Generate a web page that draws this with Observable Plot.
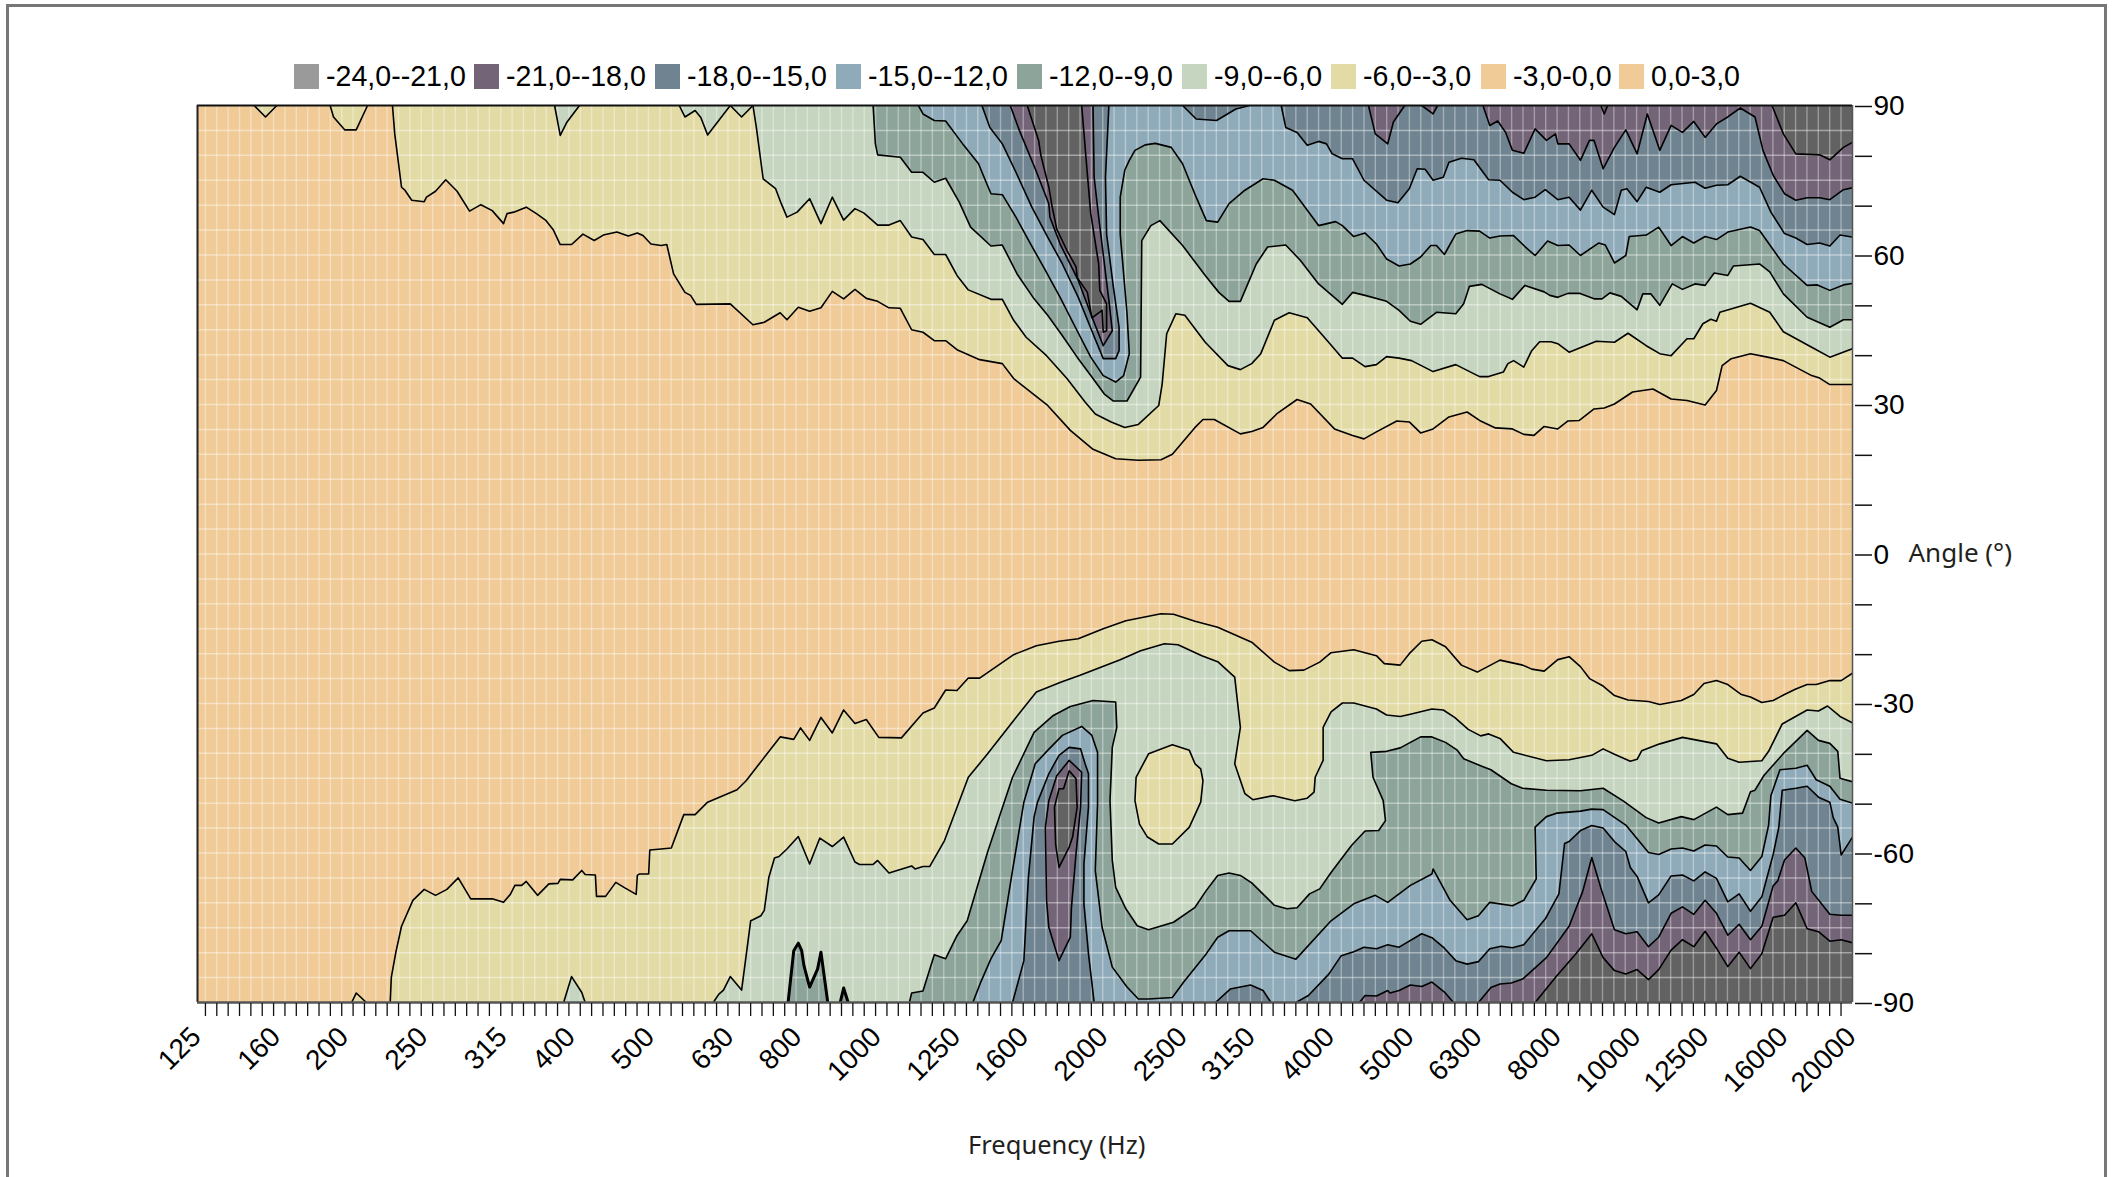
<!DOCTYPE html>
<html><head><meta charset="utf-8">
<script src="https://cdn.jsdelivr.net/npm/d3@7"></script>
<script src="https://cdn.jsdelivr.net/npm/@observablehq/plot@0.6"></script>
<style>
html,body{margin:0;padding:0;background:#fff}
#page{position:relative;width:2114px;height:1177px;overflow:hidden}
#border{position:absolute;left:6px;top:4px;width:2095px;height:1300px;border:3px solid #777;box-sizing:content-box}
#legend{position:absolute;left:294px;top:64px;height:25px;font:28.6px "Liberation Sans",Arial,sans-serif;color:#000;line-height:25px;white-space:nowrap}
#legend span.s{position:absolute;top:0;width:25px;height:25px}
#legend span.t{position:absolute;top:0}
svg{position:absolute;left:0;top:0;background:transparent}
</style></head><body>
<div id="page"><div id="border"></div><div id="legend"></div><div id="chart"></div></div>
<script>
// x is the 1/20-octave band index (0 = 125 Hz, 146 = 20000 Hz); y is the angle in degrees
const freqLabels = ["125","160","200","250","315","400","500","630","800","1000","1250","1600","2000","2500","3150","4000","5000","6300","8000","10000","12500","16000","20000"];
const freqIndex = [0,7,13,20,27,33,40,47,53,60,67,73,80,87,93,100,107,113,120,127,133,140,146];
const legendLabels = ["-24,0--21,0","-21,0--18,0","-18,0--15,0","-15,0--12,0","-12,0--9,0","-9,0--6,0","-6,0--3,0","-3,0-0,0","0,0-3,0"];
const legendColors = ["#9a9a9a","#746478","#6f8490","#8fabb9","#8ca49a","#c6d5bf","#e3dba5","#f0cb98","#f0cb98"];
const bandColors = {m3:"#e3dba5",m6:"#c6d5bf",m9:"#8ca49a",m12:"#8fabb9",m15:"#6f8490",m18:"#746478",m21:"#626262"};

// Upper half contours (angle > 0)
const u3 = [[17.2,90],[17.4,84.3],[18,73.6],[18.3,73],[18.9,71],[20,70.7],[20.2,71.6],[21,72.8],[21.9,75.1],[22.9,72.8],[24,68.8],[25,70.1],[26,68.9],[27,66.3],[27.3,68.3],[27.9,68.6],[29,69.6],[29.9,68.3],[30.7,67],[31.4,65],[32,62.1],[33,62.1],[34,64.2],[35,62.9],[35.8,64],[37,64.6],[38,63.8],[38.8,64.4],[39.3,63.9],[40,62.2],[40.9,61.9],[41.4,62.1],[42,56.2],[43,52.5],[43.5,51.9],[44,50.1],[47,50.2],[49,46],[50,46.5],[51.4,48.4],[52,47],[53,49.5],[54,48.7],[55,49.4],[56,52.7],[57,51.2],[58,53.1],[59,51.3],[60,50.7],[61,49.4],[62,49.3],[63,45],[64,44.5],[65,42.8],[66,42.8],[67,41],[69,39],[71,38.2],[72,35.2],[75,29.8],[77,24.8],[79,21],[81,19.1],[83,18.8],[85,18.9],[86,20],[88,25.4],[88.7,27],[89.7,27],[92,24.1],[93,24.6],[94,25.4],[95.2,28.1],[97,31],[98.2,30.1],[100.3,25.1],[101.9,23.8],[102.9,23.1],[104,24.5],[105.8,26.7],[106.9,26.5],[107.9,24.3],[109,25.1],[110.4,27.5],[112,28.5],[113.1,26.8],[114.5,25.3],[116,25.1],[117,24],[117.9,23.8],[118.8,25.6],[120,25.1],[120.9,26.7],[121.9,26.8],[123.2,29.1],[124.1,29.3],[125,30.1],[126.6,32.5],[128.4,33.1],[130,31.1],[131.4,30.8],[133,29.9],[134,32.8],[134.5,37.8],[135.3,39.2],[137,40.2],[138.5,39.5],[139.9,38.8],[142.4,35.8],[143.1,35.3],[144,34],[146,34]];
const u3DipA = [[5,90],[6,87.7],[7,90]];
const u3DipB = [[11.7,90],[12,87.7],[13,85.1],[14,85.1],[15,90]];
const u6 = [[49,90],[49.3,85.6],[49.9,75.3],[51,73.3],[51.5,70.3],[52,67.6],[52.9,68.6],[54,71.3],[55,66.3],[56,71.6],[57,67],[58,69.3],[58.8,68.4],[60,66],[61,66],[62,66.9],[63,63.6],[64,63.1],[65,60.1],[66,60.1],[67,55.9],[68,53],[70,51.1],[71,51.1],[72,46.9],[73.1,43.5],[74.9,39.8],[76.7,35.2],[78.3,30.5],[79.2,28.1],[80.6,26.5],[81.8,25.4],[83,26],[84.8,29.8],[85.1,34.1],[85.5,44.2],[86.3,48.2],[87.1,47.9],[88.9,42.5],[90.9,37.8],[92,37],[93,38.2],[93.8,40.2],[95,46.9],[96.3,48.4],[97.9,47.4],[99.9,42.2],[101,39.3],[101.9,39.3],[103,37.6],[104,38],[104.9,39.6],[106,39.3],[107.1,38.8],[109,36.6],[111,38],[113.1,35.6],[113.9,35.6],[115.2,36.5],[115.6,38.2],[116.1,38.8],[117,37.5],[117.7,40.8],[118.4,42.6],[119.4,42.6],[120,42.2],[121,40.5],[123.4,42.7],[125,42.5],[126.2,44.3],[127.8,41.8],[129,40.2],[130,39.8],[131.4,43.2],[132,43.2],[132.8,46.2],[133.5,47.1],[134,46.7],[134.3,48.5],[137,50.3],[138.7,48.5],[139.9,44.6],[142.4,41.5],[144,39.5],[146,41.2]];
const u6DipA = [[31.5,90],[32,84],[32.6,86.7],[33.7,90]];
const u6DipB = [[42.5,90],[43,87.7],[43.9,89],[44.4,87.6],[45,84.1],[47,90]];
const u6DipC = [[47,90],[48,87.7],[49,90]];
const u9 = [[59.6,90],[59.8,82.3],[60,80.1],[62,79.6],[63,76.6],[64,76.6],[65,74.6],[66,75.4],[67.2,70.6],[68.2,65.6],[70,61.8],[71,62],[72.3,56.2],[73.8,51.2],[75,47.9],[76.3,43.8],[77.6,39.5],[78.8,35.8],[80,32.1],[80.8,30.7],[82,30.7],[83.2,35.5],[83.3,62.9],[84.1,65.9],[84.9,66.9],[86.9,61.9],[88.9,55.9],[90.1,52.5],[91,50.7],[92,50.7],[93.4,58.2],[94.4,61.6],[96,62],[97.3,58.9],[98.9,54.2],[101,50.1],[101.9,52.5],[103,51.9],[104.9,50.7],[106,48.9],[107,46.7],[107.9,46.1],[109.3,48.5],[111,48.2],[111.7,50.2],[112.2,53.7],[113.3,54.1],[114.9,52.2],[116,51.1],[117.1,53.9],[118.8,52.6],[119.3,51.9],[120,51.5],[120.9,52.3],[121.9,52.3],[123.2,51.2],[123.9,51.2],[124.6,52.4],[125.6,51.7],[127,49],[127.5,52.2],[128.2,52.2],[129,49.9],[130.1,54.2],[131,53.1],[132.1,54.2],[133,53.9],[133.8,56.4],[135,55.9],[135.5,57.8],[137.8,58.2],[138.7,56.6],[139.9,52.2],[142,47.5],[144,45.5],[145.2,47],[146,47]];
const u12 = [[63.6,90],[64,88.3],[65,87],[66,86.9],[67.6,82],[68.9,78.3],[69.5,75],[70,72.3],[71,72.1],[72.2,67.6],[73.5,62.2],[74.8,56.9],[76.1,51.5],[77.6,44.8],[78.8,39.5],[79.9,35.8],[81,34.5],[81.7,35.8],[82.2,40.2],[82,48.2],[81.4,64.2],[81.4,71.6],[81.8,77],[82.2,79],[82.7,81],[83.6,82.1],[84.5,82.4],[85.9,81.6],[86.9,78.3],[88.1,71.6],[89,66.9],[90,66.6],[91,70.3],[92.4,73],[94,75.3],[95,75],[96.6,73],[98.9,65.9],[100.4,66.7],[101,65.9],[102,63.7],[103,64.4],[104,62.2],[104.9,59.2],[106,57.8],[107,58.2],[107.9,59.6],[108.8,61.9],[109.3,61.9],[110,60.1],[111,64.2],[112,64.9],[113.1,64.8],[114,63.4],[114.9,63.8],[116.1,63.9],[117.1,61.7],[118,59.9],[119.1,62.8],[120,61.9],[121,62],[122,59.9],[123.6,62.4],[124.2,62],[125,58.4],[126,59.9],[126.3,63.7],[127.8,64],[128.9,65.6],[130,61.9],[131,63.7],[132,62.4],[133,63.7],[134,63.1],[135,64.6],[137,65.6],[137.8,64.9],[139.9,58.2],[142,53.9],[142.9,54],[144,52.9],[145.2,54],[146,54.3]];
const u15Notch = [[69.2,90],[69.9,85.6],[71,82.3],[72.2,76.6],[73.6,69.6],[75,63.6],[76.3,58.2],[77.7,51.5],[79,44.2],[79.9,39.2],[81,39.2],[81.3,40.8],[81.3,45.5],[80.8,53.5],[80.2,64.2],[80.1,75.6],[80.4,90]];
const u15Top = [[86.9,90],[88.1,87.3],[89.9,87],[91.6,89.3],[92.8,90]];
const u15 = [[95.6,90],[96,85.6],[97,84.6],[97.9,82],[98.9,82.8],[99.6,82.3],[100.1,80.3],[101,79.3],[101.9,79.3],[102.9,75],[104.9,71],[105.9,70.5],[106.9,73.3],[107.6,77.3],[108.3,77.2],[109,75],[109.9,75.6],[110.4,78.6],[111.5,79.4],[112.6,79.1],[113.9,75.1],[114.9,75],[116,72.6],[117,71.1],[118,71.6],[118.9,73.1],[120,71.1],[121,71.6],[122,69],[123,73],[124,69.6],[125,68.1],[125.6,73],[126.1,73.3],[127,70.7],[127.8,73.6],[129,72.6],[130,74.1],[132.1,74.6],[133,73.4],[134,74],[135,74.1],[136.1,75.8],[137.8,73.6],[138.8,68.6],[140,64.3],[141,63.4],[142,62.1],[143.1,62.4],[144,61.8],[144.9,64],[146,63.6]];
const u18Notch = [[71.7,90],[72.5,85],[73.9,77.3],[75.1,70.3],[75.2,67.6],[76.1,62.2],[77.7,54.9],[78.8,48.2],[79.9,41.8],[80.7,44.8],[80.4,50.9],[79.5,67.6],[79.1,75.6],[79,90]];
const u18TopA = [[103.3,90],[103.9,84.3],[105,82.3],[105.5,86.7],[106.5,90]];
const u18TopB = [[108,90],[109,88.3],[109.4,90]];
const u18 = [[113.4,90],[114,86],[114.7,86.9],[115.4,84.6],[116,81],[117,80.4],[118,85.3],[119,83],[119.8,84.3],[120,82.3],[121,82.3],[122,79],[122.8,83],[123.2,83],[124,77.3],[125,81.6],[126,85.1],[127,80.3],[127.9,88.3],[129,81],[130,86],[131,84.6],[132,86.8],[133,83.6],[134,86.3],[135,87.7],[136.1,89.5],[137.4,87.7],[138.1,81],[139,76],[140,72.3],[141,71],[142,71.5],[143.1,71.5],[144,71.1],[145.2,73.1],[146,73.5]];
const u21Notch = [[73.2,90],[74.2,83],[74.4,80],[75.1,73.6],[75.4,69.6],[75.8,65.2],[76.7,60.9],[77.5,57.6],[77.6,55.5],[78.5,52.5],[78.9,47.4],[79.8,48.9],[79.9,44.5],[80.2,44.8],[80.2,50.2],[79.6,52.9],[79.5,58.2],[78.8,68.3],[78.5,76.3],[78,90]];
const u21Dip = [[123.8,90],[124.1,88.3],[124.4,90]];
const u21 = [[138.9,90],[139.9,84.3],[141,80.3],[143.1,80.1],[144,79.1],[145.2,81.6],[146,82.6]];

// Lower half contours (angle < 0)
const l3 = [[17,-90],[17.1,-84.9],[17.5,-79.9],[18,-74.7],[19,-69.5],[20,-67.3],[21,-68.5],[22,-67.3],[23,-65],[24.1,-69.2],[26,-69.2],[27,-69.9],[27.6,-68.3],[28,-66.5],[28.6,-66.5],[29,-65.7],[30,-68.5],[31,-66.2],[31.8,-66.1],[32,-65.3],[33.1,-65.4],[33.9,-63.5],[34.2,-64.3],[35.1,-64.4],[35.2,-68.7],[36,-68.7],[36.9,-65.9],[37.7,-67],[38.7,-68.3],[38.8,-64.5],[39,-64.2],[39.8,-64.2],[39.9,-59.4],[40.9,-59.2],[41.8,-59],[42.9,-52.3],[43.9,-52.3],[45,-49.8],[47.6,-47.3],[48.4,-45.5],[51.4,-36.7],[52.6,-37.2],[53.2,-34.9],[54,-37.4],[55,-32.8],[56,-35.9],[57,-31.3],[58,-34],[59,-33.2],[60.1,-36.8],[62.1,-36.9],[64,-31.9],[65,-30.9],[66,-27.3],[67,-27.4],[68,-24.9],[69,-24.9],[72,-20.2],[74,-18.4],[76,-17.5],[77.7,-17],[79.9,-15],[81.9,-13.4],[85,-12],[86.1,-12.1],[88,-13.5],[90,-14.7],[93,-17.7],[95,-21.7],[96.3,-23.4],[97.6,-23.3],[99,-21.7],[100,-19.8],[102,-19.2],[104,-20.4],[104.7,-22],[106.1,-22.3],[106.9,-20],[108,-17.5],[108.9,-17.2],[110.1,-18.6],[111.5,-22.3],[112.9,-23.7],[114.9,-21.3],[116.9,-22.3],[117.7,-23.1],[118.8,-23.5],[120,-21.2],[121,-20.6],[122,-22.6],[122.8,-25],[124,-26.5],[125,-28.4],[126.2,-29.3],[128,-29.6],[129,-30.2],[130.9,-29.4],[132,-28.2],[132.9,-26],[134,-25.4],[135,-26.2],[136.2,-28.2],[137,-28.7],[138,-29.8],[139,-29.4],[140,-28.2],[141,-27.1],[142,-26.2],[142.8,-26.2],[144,-25.4],[145,-25.4],[146,-23.9]];
const l3Dip = [[13.6,-90],[14,-88.1],[14.9,-90]];
const l6 = [[45.5,-90],[46,-88.3],[46.4,-87.5],[47,-84.8],[48,-87.5],[48.8,-73.6],[49,-73.4],[49.7,-72.6],[50,-71.5],[50.4,-64.9],[50.9,-61],[51.3,-60.7],[52,-59.2],[53,-56.7],[54,-62.2],[54.9,-57],[56,-58.7],[57,-56.8],[58,-61.8],[58.4,-62.3],[59.6,-62.3],[60,-61.5],[61,-64],[63,-62.6],[63.3,-63.2],[64,-62.7],[64.6,-62.7],[65.9,-57.5],[68,-44.8],[69.7,-40.1],[72,-33.4],[74,-27.7],[76.2,-25.7],[77.8,-24.4],[81.4,-21.2],[83.2,-19.4],[85.3,-18],[86.5,-18.2],[88.6,-20.4],[90,-21.6],[91.5,-24.7],[92,-34.8],[91.5,-42.1],[92.4,-48.1],[93.1,-49.3],[94.9,-48.5],[96.8,-49.5],[97.9,-49],[98.5,-47.8],[98.6,-44.8],[99.3,-41.4],[99.3,-34.8],[100,-31.7],[101,-29.9],[102,-29.9],[104,-31.1],[104.9,-32.3],[106.1,-32.6],[106.9,-32.2],[108.9,-31.1],[109.9,-31.3],[110.9,-32.8],[112.1,-35.2],[113.2,-36.5],[113.9,-36.1],[114.9,-37],[116.1,-39.8],[119,-41.5],[121,-41.3],[123,-40.4],[124,-39.1],[125,-40.2],[126.4,-41.6],[127,-41.2],[127.4,-39.5],[129,-38.1],[131,-36.8],[134,-38.1],[135,-41],[136,-41.8],[138,-41.5],[138.6,-39.6],[139.8,-34.1],[142,-31.3],[143,-31.5],[143.8,-30.5],[144.9,-32.6],[146,-33.9]];
const l6Dip = [[32.3,-90],[33,-84.8],[33.9,-88],[34.2,-90]];
const l3Island = [[86,-38.3],[87.5,-39.4],[88,-42.1],[88.5,-43.1],[88.7,-45.5],[88.5,-49.8],[87.5,-54.8],[86,-58.2],[84.8,-58.2],[83.8,-56.8],[83.1,-54.2],[82.7,-49.5],[82.8,-44.8],[83.9,-40.1]];
const l9 = [[62.8,-90],[63,-88.1],[64,-87.7],[65,-80.4],[66,-81.2],[67,-76.6],[67.9,-73.6],[69.7,-59.8],[71.9,-44.8],[73.8,-35.8],[75.5,-32.4],[77,-30.6],[79,-29.4],[81,-29.7],[81.1,-34.8],[80.7,-38.8],[80.5,-49.5],[80.7,-61.5],[81,-66.9],[81.9,-71.2],[82.9,-74.6],[83.9,-75.4],[86.1,-73.9],[88,-70.9],[89,-67.5],[90,-64.5],[91,-64],[92,-64.5],[93,-66],[95,-70.5],[96.1,-71.2],[97,-71],[98.1,-68.2],[99,-67.2],[100,-63.9],[101.8,-58.5],[103,-55.6],[104.2,-55.5],[104.8,-53.5],[104.6,-49.5],[103.7,-44.8],[103.5,-39.8],[104.9,-39.6],[106.1,-38.9],[107.9,-36.7],[108.9,-36.7],[110.1,-37.8],[111.1,-39.3],[111.7,-41.1],[113.3,-42.6],[114.1,-43.3],[115.9,-46.1],[116.9,-47],[119,-47.4],[122,-47.5],[124,-47],[125.8,-49.6],[127.8,-52.9],[128.9,-54],[130.9,-52.7],[132,-53.3],[134,-50.8],[135,-52.3],[136.3,-52],[137,-47.7],[137.4,-47.4],[138.2,-44.4],[140,-39.8],[142,-35.4],[143,-37.4],[144,-38],[144.7,-39.6],[144.9,-45],[146,-45.7]];
const l9SpotA = [[52.1,-90],[52.6,-79.6],[53,-78.1],[53.3,-79.6],[53.5,-82.6],[54,-86.9],[54.7,-83.3],[55,-79.9],[55.6,-90]];
const l9SpotB = [[56.7,-90],[57,-87.1],[57.4,-90]];
const l12 = [[68.4,-90],[69.1,-85.9],[70,-81.2],[70.9,-77.6],[71.9,-63.5],[72.9,-49.8],[73.9,-42.1],[75,-39.4],[76.3,-36.4],[78,-34.6],[78.9,-36.4],[79.4,-39.8],[79.4,-50.1],[79.2,-63.5],[79.8,-74.9],[80.7,-82.9],[82,-86.9],[83,-89.3],[83.9,-89.3],[86,-89],[87,-85.9],[89,-80.2],[90,-76.9],[91,-75.6],[92.9,-75.6],[95,-79.9],[96.9,-81.3],[100,-73.6],[102,-70.2],[103.9,-68.5],[105,-69.9],[107,-66.5],[108.9,-64.2],[109,-63.2],[110.5,-69.5],[112,-73.4],[113,-72.6],[114,-69.9],[116,-70.6],[117,-69.5],[118.1,-65.2],[118,-54.8],[119,-52.7],[119.9,-52],[122,-51.6],[123,-51.2],[124,-51.3],[126,-54.4],[128,-59.9],[128.9,-60.3],[130,-59.2],[131,-59],[132,-59.6],[133,-58.4],[134,-58.6],[135,-60.8],[136,-61],[137,-63.5],[138,-60.7],[138.6,-54.4],[138.8,-48.5],[139.6,-43.3],[141,-43],[142,-42.4],[142.8,-45.3],[144,-46.6],[144.9,-49.2],[146,-50]];
const l15Notch = [[71.9,-90],[72.9,-81.6],[73.3,-64.9],[73.8,-52.8],[74.1,-49.8],[75.1,-44.1],[76,-40.4],[76.9,-38.8],[77.9,-39.1],[78.3,-42.1],[78.6,-44.1],[78.6,-50.8],[78.2,-62.2],[78.2,-70.2],[78.6,-80.2],[79.1,-90]];
const l15Bump = [[89.8,-90],[91.1,-87.3],[92.9,-86.5],[94,-87.6],[94.7,-90]];
const l15 = [[96.9,-90],[98,-88.6],[99.8,-84.3],[100.9,-80.6],[102,-79.8],[102.9,-78.9],[104,-79.2],[105,-78.4],[106,-78.9],[108,-76.2],[108.9,-77],[110,-79.1],[111,-81.6],[112,-82.3],[113,-81.8],[114,-79.2],[115,-78.7],[116,-79],[117,-78.4],[118.9,-73.2],[120.1,-68.2],[120.6,-58.1],[121,-57.7],[122,-55.5],[123,-54.5],[124,-55],[125,-57.7],[126,-59.7],[126.4,-62.9],[127,-64.7],[128,-70],[128.9,-68.4],[130,-64.6],[131,-64.4],[132,-65.6],[133,-63.8],[134,-65.1],[135,-69.8],[136,-68.2],[137,-71.7],[138,-68.8],[139,-60.3],[139.5,-54.8],[139.8,-47.4],[141,-47],[142,-46.6],[143,-48.8],[144,-49.8],[144.3,-52.9],[144.7,-54.8],[145,-60.4],[146,-56.8]];
const l18Notch = [[76,-81.6],[75.1,-74.9],[74.9,-69.5],[74.8,-54.8],[75.1,-49.5],[75.8,-44.5],[76.9,-41.4],[78,-43.8],[77.9,-50.8],[77.5,-60.2],[77.1,-70.9],[77,-76.9]];
const l18Bump = [[102.5,-90],[103,-88.6],[104,-88.7],[105,-87.6],[105.2,-88.1],[106,-87.6],[107,-86.5],[108,-86.8],[108.9,-85.9],[110,-87.9],[110.8,-90]];
const l18 = [[113,-90],[114.1,-87],[114.9,-86.3],[115.9,-86.1],[116.9,-85.3],[119,-81],[121,-74.7],[122.2,-67.7],[123,-60.9],[123.8,-67],[125,-75.4],[126,-76.2],[127,-75.8],[128,-78.8],[128.9,-76.9],[130,-72.1],[131,-70.8],[132,-72.3],[133,-69.5],[134,-72.1],[135,-76.5],[136,-74.3],[137,-77.4],[138,-74.7],[139,-66.6],[139.4,-65.6],[140,-61.4],[141,-59],[141.8,-61],[142.4,-67.7],[144,-72.3],[145,-72.5],[146,-72.5]];
const l21Notch = [[76,-62.9],[75.7,-58.2],[75.6,-50.8],[76,-47.1],[76.4,-47.1],[76.9,-43.5],[77.5,-45.1],[77.6,-50.8],[77.2,-56.8],[76.9,-58.8]];
const l21 = [[118,-90],[119.9,-84.7],[121.6,-80.2],[123,-76.2],[124,-81],[125,-83.6],[126,-84.3],[127,-83.4],[128,-85.4],[128.9,-83.4],[130,-79.5],[131,-77.4],[132,-78.8],[133,-75.7],[134,-79.1],[135,-82.8],[136,-79.9],[137,-83.2],[138,-80.2],[139,-72.9],[140,-72.5],[141,-70],[142,-75.2],[143,-75.8],[144,-77.7],[145,-77.4],[146,-78]];

// paint order, lightest first
const layers = [
  ["m3",[u3,u3DipA,u3DipB,l3,l3Dip]],
  ["m6",[u6,u6DipA,u6DipB,u6DipC,l6,l6Dip]],
  ["m3",[l3Island]],
  ["m9",[u9,l9,l9SpotA,l9SpotB]],
  ["m12",[u12,l12]],
  ["m15",[u15Notch,u15Top,u15,l15Notch,l15Bump,l15]],
  ["m18",[u18Notch,u18TopA,u18TopB,u18,l18Notch,l18Bump,l18]],
  ["m21",[u21Notch,u21Dip,u21,l21Notch,l21]]
];
const loops = new Set([l3Island,l18Notch,l21Notch]);
const thick = new Set([l9SpotA,l9SpotB]);

function polygon(c){
  const last = c[c.length-1];
  if (last[0] === 146) return [...c,[146, c[0][1] > 0 ? 90 : -90]];
  return c;
}
const px = d => d[0], py = d => d[1];
// the ticks and grid sit slightly off the band index in the original
const tickPos = k => 0.7 + 1.002*k;
const tickSteps = d3.range(0,145);
const marks = [Plot.frame({fill:"#f0cb98",stroke:null})];
for (const [k,cs] of layers) for (const c of cs)
  marks.push(Plot.line(polygon(c),{x:px,y:py,fill:bandColors[k],stroke:"none",clip:true}));
marks.push(Plot.ruleX(tickSteps.map(tickPos),{stroke:"#fff",strokeOpacity:0.36,strokeWidth:1.4,clip:true}));
marks.push(Plot.ruleY(d3.range(-85,90,5),{stroke:"#fff",strokeOpacity:0.42,strokeWidth:1.5,clip:true}));
for (const [k,cs] of layers) for (const c of cs)
  marks.push(Plot.line(loops.has(c)?[...c,c[0]]:c,{x:px,y:py,stroke:"#000",strokeWidth:thick.has(c)?3:1.6,clip:true}));
marks.push(Plot.ruleY([90],{stroke:"#111",strokeWidth:2}));
marks.push(Plot.ruleX([0],{stroke:"#222",strokeWidth:2}));
marks.push(Plot.ruleX([146],{stroke:"#555",strokeWidth:1.5}));
marks.push(Plot.ruleY([-90],{stroke:"#555",strokeWidth:2.5}));
marks.push(Plot.axisX({ticks:tickSteps.map(tickPos),tickSize:13,tickFormat:()=>"",label:null,stroke:"#111",strokeWidth:1.3,dy:1}));
marks.push(Plot.axisY({anchor:"right",ticks:d3.range(-90,91,10),tickSize:17,tickPadding:2,tickFormat:d=>d%30===0?String(d):"",label:null,fontSize:28,fontFamily:"Liberation Sans",fill:"#000",stroke:"#111",strokeWidth:1.5,dx:2,dy:1,lineAnchor:"middle"}));
marks.push(Plot.text(freqLabels,{x:(d,i)=>freqIndex[i],text:d=>d,frameAnchor:"bottom",dx:-9,dy:22,rotate:-45,textAnchor:"end",lineAnchor:"top",fontSize:28,fontFamily:"Liberation Sans",fill:"#000"}));
marks.push(Plot.text(["Frequency (Hz)"],{x:[75.8],frameAnchor:"bottom",dy:143,lineAnchor:"middle",fontSize:25.5,fontFamily:"Noto Sans",fill:"#231f20",letterSpacing:"0.6px"}));
marks.push(Plot.text(["Angle (°)"],{y:[0],frameAnchor:"right",dx:56,textAnchor:"start",fontSize:26,fontFamily:"Noto Sans",fill:"#231f20"}));

const svg = Plot.plot({width:2114,height:1177,marginLeft:197,marginRight:262,marginTop:105,marginBottom:175,
  x:{domain:[0,146],axis:null},y:{domain:[-90,90],axis:null},style:{background:"transparent"},marks});
document.getElementById("chart").append(svg);

const lx = [0,180,361,542,723,888,1037,1187,1325];
const lg = document.getElementById("legend");
legendLabels.forEach((t,i)=>{
  const s=document.createElement("span");s.className="s";s.style.left=lx[i]+"px";s.style.background=legendColors[i];lg.append(s);
  const l=document.createElement("span");l.className="t";l.style.left=(lx[i]+32)+"px";l.textContent=t;lg.append(l);
});
</script></body></html>
